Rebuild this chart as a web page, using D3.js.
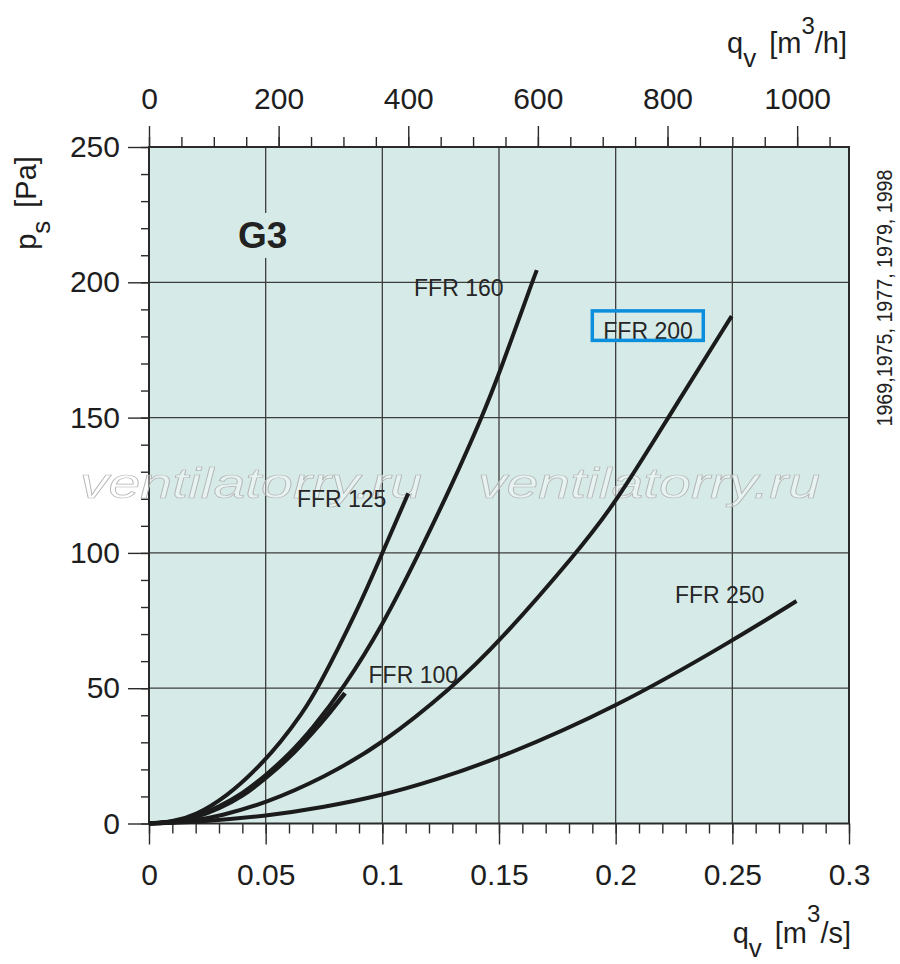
<!DOCTYPE html>
<html>
<head>
<meta charset="utf-8">
<script src="https://cdn.jsdelivr.net/npm/d3@7"></script>
<style>
  body { margin: 0; background: #fff; }
  text { font-family: "Liberation Sans", Arial, sans-serif; fill: #1e1e1e; }
</style>
</head>
<body>
<div id="chart"></div>
<script>
// fan curves: q_v in m3/s, p_s in Pa
const ffr100Q = [0, 0.01, 0.02, 0.03, 0.04, 0.05, 0.06, 0.07, 0.0775, 0.084];
const ffr100P = [0, 0.4, 2.2, 5.6, 10, 16.8, 24.2, 33.5, 41, 48.2];

const ffr125Q = [0, 0.01, 0.02, 0.0333, 0.0461, 0.0569, 0.0654, 0.0719, 0.09, 0.099, 0.1111];
const ffr125P = [0, 0.6, 3, 10, 20, 30.5, 40.5, 49, 80, 98, 122];

const ffr160Q = [0, 0.01, 0.02, 0.03, 0.04, 0.05, 0.06, 0.07, 0.0833, 0.1, 0.1158, 0.13, 0.1426, 0.15, 0.1642, 0.1662];
const ffr160P = [0, 0.5, 2.6, 6.2, 11, 17.8, 25.5, 35, 50, 73, 100, 125.5, 150, 166, 200, 204.5];

const ffr200Q = [0, 0.01, 0.02, 0.03, 0.05, 0.075, 0.1, 0.1297, 0.15, 0.1833, 0.2, 0.2225, 0.2497];
const ffr200P = [0, 0.3, 1.2, 2.7, 7.5, 17, 29.4, 50, 67, 100, 118.5, 150, 187.5];

const ffr250Q = [0, 0.02, 0.05, 0.075, 0.1, 0.1224, 0.15, 0.2, 0.25, 0.2775];
const ffr250P = [0, 0.5, 2.7, 6, 10.4, 16, 24, 42.8, 67.5, 82.2];

const seriesNames = ["FFR 100", "FFR 125", "FFR 160", "FFR 200", "FFR 250"];
// label anchor in data units (q, p)
const labelQ = [0.0941, 0.0634, 0.1136, 0.1947, 0.2254];
const labelP = [51.9, 116.9, 194.9, 178.9, 81.4];

const bottomTicks = [0, 0.05, 0.1, 0.15, 0.2, 0.25, 0.3];
const leftTicks = [0, 50, 100, 150, 200, 250];
const topTicks = [0, 200, 400, 600, 800, 1000];
const yearsNote = "1969,1975, 1977, 1979, 1998";

const width = 900;
const height = 964;
const plotL = 149, plotR = 849, plotT = 147, plotB = 823.5;
const bg = "#d6ebe8";

const svg = d3.select("#chart")
  .append("svg")
  .attr("width", width)
  .attr("height", height);

const x = d3.scaleLinear().domain([0, 0.3]).range([plotL, plotR]);
const y = d3.scaleLinear().domain([0, 250]).range([plotB, plotT]);
const xh = d3.scaleLinear().domain([0, 0.3 * 3600]).range([plotL, plotR]);

// plot background
svg.append("rect")
  .attr("x", plotL).attr("y", plotT)
  .attr("width", plotR - plotL).attr("height", plotB - plotT)
  .attr("fill", bg);

// grid
const grid = svg.append("g").attr("stroke", "#3c3c3c").attr("stroke-width", 1.3);
grid.selectAll(".vg")
  .data(bottomTicks.slice(1, -1))
  .join("line")
  .attr("class", "vg")
  .attr("x1", d => x(d)).attr("x2", d => x(d))
  .attr("y1", plotT).attr("y2", plotB);
grid.selectAll(".hg")
  .data(leftTicks.slice(1, -1))
  .join("line")
  .attr("class", "hg")
  .attr("x1", plotL).attr("x2", plotR)
  .attr("y1", d => y(d)).attr("y2", d => y(d));

// G3 title sits on a patch that cuts the grid
const g3 = svg.append("text")
  .attr("x", x(0.0381))
  .attr("y", y(212.7))
  .attr("font-size", 37)
  .attr("font-weight", "bold")
  .style("fill", "#222")
  .text("G3");
const gb = g3.node().getBBox();
svg.insert("rect", () => g3.node())
  .attr("x", gb.x - 6).attr("y", gb.y - 2)
  .attr("width", gb.width + 12).attr("height", gb.height + 4)
  .attr("fill", bg);

// axes: minor + major ticks
function styleAxis(g) {
  g.select(".domain").remove();
  g.selectAll(".tick line").attr("stroke", "#2a2a2a").attr("stroke-width", 1.4);
  g.selectAll("text").attr("font-size", 30).attr("fill", "#1e1e1e")
    .attr("font-family", "'Liberation Sans', Arial, sans-serif");
}

svg.append("g").attr("transform", `translate(${plotL},0)`)
  .call(d3.axisLeft(y).tickValues(d3.range(0, 251, 10)).tickSize(8).tickFormat(""))
  .call(styleAxis);
svg.append("g").attr("transform", `translate(${plotL},0)`)
  .call(d3.axisLeft(y).tickValues(leftTicks).tickSize(21).tickPadding(8).tickFormat(d3.format("d")))
  .call(styleAxis);

svg.append("g").attr("transform", `translate(0,${plotB})`)
  .call(d3.axisBottom(x).tickValues(d3.range(0, 31).map(d => d / 100)).tickSize(10).tickFormat(""))
  .call(styleAxis);
svg.append("g").attr("transform", `translate(0,${plotB})`)
  .call(d3.axisBottom(x).tickValues(bottomTicks).tickSize(21).tickPadding(19).tickFormat(d => String(d)))
  .call(styleAxis);

svg.append("g").attr("transform", `translate(0,${plotT})`)
  .call(d3.axisTop(xh).tickValues(d3.range(0, 1051, 50)).tickSize(10).tickFormat(""))
  .call(styleAxis);
svg.append("g").attr("transform", `translate(0,${plotT})`)
  .call(d3.axisTop(xh).tickValues(topTicks).tickSize(21).tickPadding(17).tickFormat(d3.format("d")))
  .call(styleAxis);

// frame
svg.append("rect")
  .attr("x", plotL).attr("y", plotT)
  .attr("width", plotR - plotL).attr("height", plotB - plotT)
  .attr("fill", "none")
  .attr("stroke", "#2a2a2a")
  .attr("stroke-width", 2);

// watermark
[80, 478].forEach(wx => {
  svg.append("text")
    .attr("x", wx).attr("y", 498)
    .attr("font-family", "'DejaVu Sans', sans-serif")
    .attr("font-style", "italic")
    .attr("font-size", 42)
    .attr("textLength", 342)
    .attr("lengthAdjust", "spacingAndGlyphs")
    .style("fill", "rgba(255,255,255,0.4)")
    .attr("stroke", "#b4b4b4")
    .attr("stroke-width", 0.7)
    .text("ventilatorry.ru");
});

// curves
const series = [
  [ffr100Q, ffr100P],
  [ffr125Q, ffr125P],
  [ffr160Q, ffr160P],
  [ffr200Q, ffr200P],
  [ffr250Q, ffr250P]
].map(([qs, ps], i) => ({ name: seriesNames[i], points: qs.map((q, j) => [q, ps[j]]) }));

const line = d3.line()
  .x(d => x(d[0]))
  .y(d => y(d[1]))
  .curve(d3.curveBasis);

svg.append("g")
  .selectAll("path")
  .data(series)
  .join("path")
  .attr("d", d => line(d.points))
  .attr("fill", "none")
  .attr("stroke", "#1b1b1b")
  .attr("stroke-width", d => d.name === "FFR 100" ? 4.6 : 4)
  .attr("stroke-linecap", "butt");

// curve labels
const labels = svg.append("g");
seriesNames.forEach((name, i) => {
  const t = labels.append("text")
    .attr("x", x(labelQ[i]))
    .attr("y", y(labelP[i]))
    .attr("font-size", 23)
    .style("fill", "#262626")
    .text(name);
  if (name === "FFR 200") {
    const bb = t.node().getBBox();
    labels.append("rect")
      .attr("x", bb.x - 11)
      .attr("y", bb.y - 7.5)
      .attr("width", bb.width + 21.5)
      .attr("height", bb.height + 3.5)
      .attr("fill", "none")
      .attr("stroke", "#0b8fdc")
      .attr("stroke-width", 3.5);
  }
});

// axis titles
function unitTitle(sel, sym, sub, unitA, sup, unitB, supShift) {
  sel.append("tspan").text(sym);
  sel.append("tspan").attr("dy", 14).attr("font-size", 26).text(sub);
  sel.append("tspan").attr("dy", -14).attr("dx", 13).text(unitA);
  if (sup) {
    sel.append("tspan").attr("dy", -supShift).attr("font-size", 24).text(sup);
    sel.append("tspan").attr("dy", supShift).text(unitB);
  }
}

svg.append("text")
  .attr("x", 851).attr("y", 943)
  .attr("text-anchor", "end")
  .attr("font-size", 29)
  .call(unitTitle, "q", "v", "[m", "3", "/s]", 21);

svg.append("text")
  .attr("x", 847).attr("y", 53)
  .attr("text-anchor", "end")
  .attr("font-size", 29)
  .call(unitTitle, "q", "v", "[m", "3", "/h]", 19);

svg.append("text")
  .attr("transform", "translate(36,203) rotate(-90)")
  .attr("text-anchor", "middle")
  .attr("font-size", 29)
  .call(unitTitle, "p", "s", "[Pa]", null, null, 0);

svg.append("text")
  .attr("transform", "translate(892,298) rotate(-90)")
  .attr("text-anchor", "middle")
  .attr("font-size", 22)
  .attr("textLength", 257)
  .attr("lengthAdjust", "spacingAndGlyphs")
  .style("fill", "#222")
  .text(yearsNote);
</script>
</body>
</html>
